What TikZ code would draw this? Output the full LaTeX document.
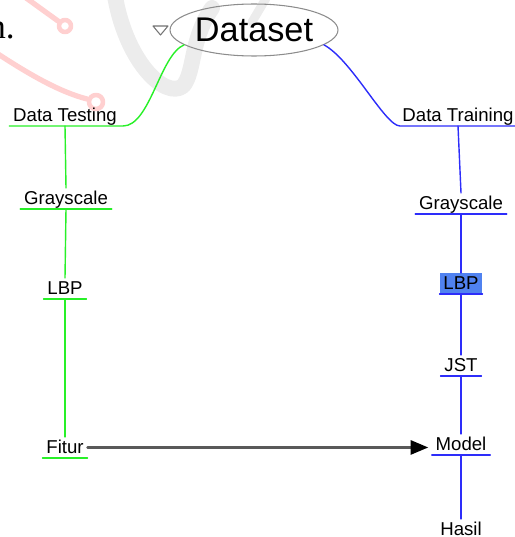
\documentclass[tikz,border=0pt]{standalone}
\usepackage{fontspec}
\setmainfont{Liberation Sans}
\newfontfamily\paperfont{Liberation Serif}
\usetikzlibrary{shapes.geometric}
\usetikzlibrary{arrows.meta}
\definecolor{mapgreen}{RGB}{40,240,40}
\definecolor{mapblue}{RGB}{45,45,250}
\definecolor{selblue}{RGB}{80,130,240}
\definecolor{markpink}{RGB}{255,208,208}
\definecolor{markgray}{RGB}{236,236,236}

\begin{document}
\begin{tikzpicture}[line cap=round,line join=round,x=0.02cm,y=-0.02cm,
  topic/.style={font=\fontsize{10.6}{12}\selectfont,anchor=south,inner xsep=2pt,inner ysep=1pt,text height=8pt,text depth=1.6pt},
  gline/.style={color=mapgreen,line width=0.8pt},
  bline/.style={color=mapblue,line width=0.8pt}]
\useasboundingbox (0,0) rectangle (514,537);
%\draw[help lines] (0,0) grid[step=50] (514,537);
\draw [line width=9pt,color=markgray] (114,-10) .. controls (124,60) and (165,100) .. (183,86) .. controls (195,72) and (190,40) .. (212,8);
\draw [line width=5pt,color=markgray] (252,22)-- (268,-5);
\draw [line width=3pt,color=markpink] (22,-5)-- (58,21);
\draw [line width=2.6pt,color=markpink] (65,26) circle (0.12cm);
\draw [line width=3pt,color=markpink] (-5,52) .. controls (30,75) and (60,92) .. (87,99);
\draw [line width=2.6pt,color=markpink] (96,102) circle (0.14cm);
\node[font=\paperfont\fontsize{20}{22}\selectfont,anchor=base east,inner sep=0pt] (pgtext) at (15,39) {n.};

\node[ellipse,draw=black!45,line width=0.6pt,minimum width=3.36cm,minimum height=1.04cm,inner sep=0pt,font=\fontsize{19.5}{22}\selectfont] (dataset) at (254,30) {Dataset};
\draw [color=black!55,fill=white,line width=0.6pt] (153,26)-- (168,26)-- (160.5,35)-- cycle;

\node[topic] (dtest) at (65,126) {Data Testing};
\node[topic] (gray1) at (66,209) {Grayscale};
\node[topic] (lbp1) at (65,299) {LBP};
\node[topic] (fitur) at (65,458) {Fitur};
\node[topic] (dtrain) at (458,126) {Data Training};
\node[topic] (gray2) at (461,214) {Grayscale};
\node[topic,fill=selblue] (lbp2) at (461,294) {LBP};
\node[topic] (jst) at (461,376) {JST};
\node[topic] (model) at (461,455) {Model};
\node[topic] (hasil) at (461,540) {Hasil};
\coordinate (tbend) at (123,126);
\coordinate (rbend) at (400,126);

% left branch
\draw [gline] (dataset.192) .. controls (160,55) and (150,126) .. (tbend)-- (dtest.south west);
\draw [gline] (dtest.south)-- (gray1.north);
\draw [gline] (gray1.south west)-- (gray1.south east);
\draw [gline] (gray1.south)-- (lbp1.north);
\draw [gline] (lbp1.south west)-- (lbp1.south east);
\draw [gline] (lbp1.south)-- (fitur.north);
\draw [gline] (fitur.south west)-- (fitur.south east);
% right branch
\draw [bline] (dataset.-12) .. controls (352,60) and (385,126) .. (rbend)-- (dtrain.south east);
\draw [bline] (dtrain.south)-- (gray2.north);
\draw [bline] (gray2.south west)-- (gray2.south east);
\draw [bline] (gray2.south)-- (lbp2.north);
\draw [bline] (lbp2.south west)-- (lbp2.south east);
\draw [bline] (lbp2.south)-- (jst.north);
\draw [bline] (jst.south west)-- (jst.south east);
\draw [bline] (jst.south)-- (model.north);
\draw [bline] (model.south west)-- (model.south east);
\draw [bline] (model.south)-- (hasil.north);

\draw [line width=1.4pt,color=black!65,-{Triangle[length=10pt,width=8pt,color=black]},shorten >=2pt] (fitur.east)-- (fitur.east -| model.west);
\end{tikzpicture}
\end{document}
